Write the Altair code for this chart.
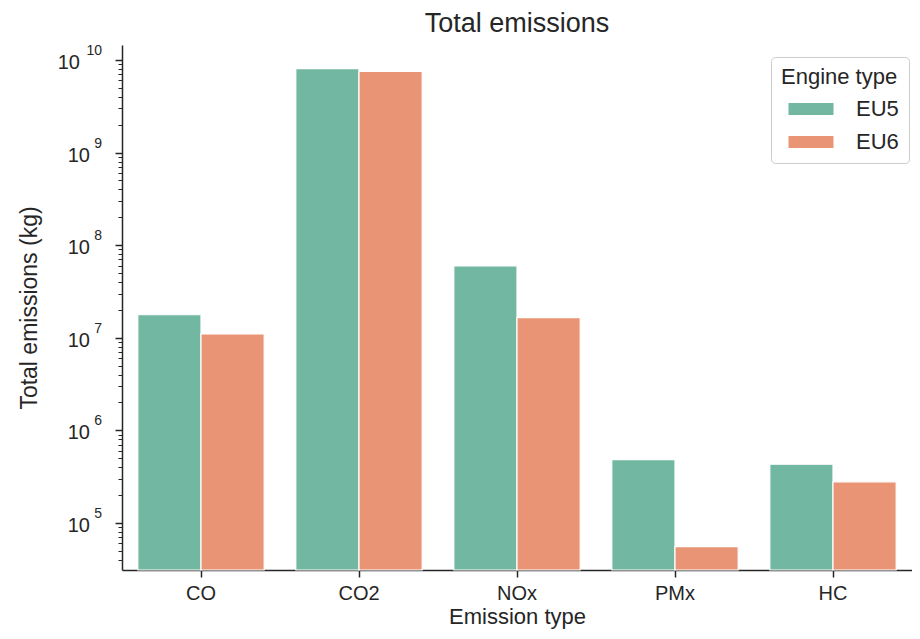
import altair as alt
import pandas as pd

emission_types = ["CO", "CO2", "NOx", "PMx", "HC"]
engine_types = ["EU5", "EU6"]
eu5_values = [1.77e7, 8.04e9, 5.96e7, 4.83e5, 4.30e5]
eu6_values = [1.10e7, 7.52e9, 1.65e7, 5.54e4, 2.78e5]
engine_colors = ["#71b7a1", "#e99575"]
decade_exponents = [5, 6, 7, 8, 9, 10]

y_min, y_max = 3.1e4, 1.45e10

rows = []
for i, t in enumerate(emission_types):
    rows.append({"Emission type": t, "Engine type": "EU5", "value": eu5_values[i]})
    rows.append({"Emission type": t, "Engine type": "EU6", "value": eu6_values[i]})
df = pd.DataFrame(rows)

decades = pd.DataFrame({"value": [10.0 ** e for e in decade_exponents],
                        "exp": [str(e) for e in decade_exponents]})

tick_values = [m * 10 ** e for e in range(4, 11) for m in range(1, 10)
               if y_min <= m * 10 ** e <= y_max]

exp_expr = "round(log(datum.value)/LN10)"
is_major = f"abs(log(datum.value)/LN10 - {exp_expr}) < 0.001"

FONT = "Liberation Sans"
TXT = "#262626"

y_scale = alt.Scale(type="log", domain=[y_min, y_max], nice=False)

bars = alt.Chart(df).mark_bar(stroke="white", strokeWidth=1.2).encode(
    x=alt.X("Emission type:N", sort=emission_types,
            scale=alt.Scale(paddingInner=0.2, paddingOuter=0.1),
            axis=alt.Axis(title="Emission type", labelAngle=0, tickSize=7,
                          tickWidth=1.5, labelPadding=6, titlePadding=3,
                          labelFontSize=20, titleFontSize=22)),
    xOffset=alt.XOffset("Engine type:N", sort=engine_types,
                        scale=alt.Scale(paddingInner=0, paddingOuter=0)),
    y=alt.Y("value:Q", scale=y_scale,
            axis=alt.Axis(title="Total emissions (kg)", values=tick_values,
                          labels=False,
                          tickSize={"condition": {"test": is_major, "value": 7}, "value": 4},
                          tickWidth={"condition": {"test": is_major, "value": 1.5}, "value": 1},
                          titlePadding=73, grid=False)),
    y2=alt.Y2(datum=y_min),
    color=alt.Color("Engine type:N",
                    scale=alt.Scale(domain=engine_types, range=engine_colors),
                    legend=alt.Legend(title="Engine type", orient="none",
                                      legendX=649, legendY=12,
                                      symbolType="M-1.5,-0.4H1.5V0.4H-1.5Z",
                                      symbolSize=900, symbolStrokeWidth=0,
                                      symbolOffset=15, labelOffset=30,
                                      padding=10, rowPadding=7,
                                      titleFontSize=22, labelFontSize=22,
                                      titleFontWeight="normal", titleFont=FONT,
                                      labelFont=FONT, titleColor=TXT, labelColor=TXT,
                                      titlePadding=5,
                                      strokeColor="#cccccc", cornerRadius=4,
                                      fillColor="white")),
)

exp_text = alt.Chart(decades).mark_text(
    align="right", baseline="middle", font=FONT, fontSize=14, color=TXT, dy=-9
).encode(
    y=alt.Y("value:Q", scale=y_scale),
    x=alt.value(-20),
    text="exp:N",
)

base_short = alt.Chart(decades).transform_filter("length(datum.exp) == 1").mark_text(
    align="right", baseline="middle", font=FONT, fontSize=20, color=TXT, dx=-12, dy=3
).encode(
    y=alt.Y("value:Q", scale=y_scale),
    x=alt.value(-20),
    text=alt.value("10"),
)

base_long = alt.Chart(decades).transform_filter("length(datum.exp) == 2").mark_text(
    align="right", baseline="middle", font=FONT, fontSize=20, color=TXT, dx=-22, dy=3
).encode(
    y=alt.Y("value:Q", scale=y_scale),
    x=alt.value(-20),
    text=alt.value("10"),
)

chart = alt.layer(bars, exp_text, base_short, base_long).properties(
    width=790, height=525,
    title=alt.Title("Total emissions", fontSize=27, font=FONT, fontWeight="normal",
                    color=TXT, offset=6),
    padding={"left": 114, "top": 37, "right": 0, "bottom": 61},
    autosize="none",
).configure_view(stroke=None).configure_axis(
    labelFont=FONT, titleFont=FONT, labelFontSize=21, titleFontSize=23,
    titleFontWeight="normal", labelColor=TXT, titleColor=TXT,
    domainColor=TXT, tickColor=TXT, domainWidth=1.5,
)

chart.save("out.html", embed_options={"renderer": "svg", "actions": False})
